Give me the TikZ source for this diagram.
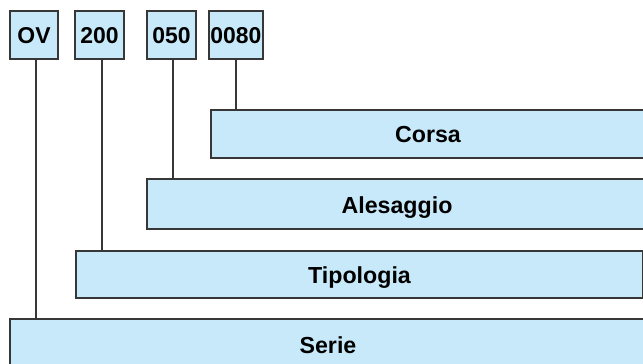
\documentclass[tikz,border=0pt]{standalone}
\usepackage{fontspec}
\setmainfont{Liberation Sans}
\definecolor{boxfill}{RGB}{200,233,249}
\definecolor{edge}{RGB}{55,55,55}
\begin{document}
\begin{tikzpicture}[x=0.75pt,y=-0.75pt,
  codebox/.style={draw=edge,line width=0.9pt,fill=boxfill,inner sep=0pt,minimum height=36pt,text height=12pt,text depth=0pt,font=\fontsize{17.2}{19}\selectfont\bfseries},
  bar/.style={draw=edge,line width=0.9pt,fill=boxfill,inner sep=0pt,text depth=0pt,font=\fontsize{17.4}{19}\selectfont\bfseries},
  link/.style={draw=edge,line width=1pt}]
\useasboundingbox (0,0) rectangle (643,364);
\node[codebox,minimum width=36pt] (ov) at (34,35) {OV};
\node[codebox,minimum width=36.75pt] (t200) at (99.5,35) {200};
\node[codebox,minimum width=36.75pt] (t050) at (171.5,35) {050};
\node[codebox,minimum width=40.5pt] (t0080) at (236,35) {0080};
\node[bar,minimum width=325.5pt,minimum height=36pt,text height=12.8pt] (corsa) at (428,134) {Corsa};
\node[bar,minimum width=375pt,minimum height=37.5pt,text height=13.5pt] (alesaggio) at (397,204) {Alesaggio};
\node[bar,minimum width=425.25pt,minimum height=35.25pt,text height=12.75pt] (tipologia) at (359.5,274.5) {Tipologia};
\node[bar,minimum width=477pt,minimum height=36pt,text height=15pt] (serie) at (328,343) {Serie};
\draw[link] ([xshift=1.5pt]ov.south) -- ([xshift=1.5pt]ov.south |- serie.north);
\draw[link] ([xshift=1.9pt]t200.south) -- ([xshift=1.9pt]t200.south |- tipologia.north);
\draw[link] ([xshift=1.1pt]t050.south) -- ([xshift=1.1pt]t050.south |- alesaggio.north);
\draw[link] (t0080.south) -- (t0080.south |- corsa.north);
\end{tikzpicture}
\end{document}
